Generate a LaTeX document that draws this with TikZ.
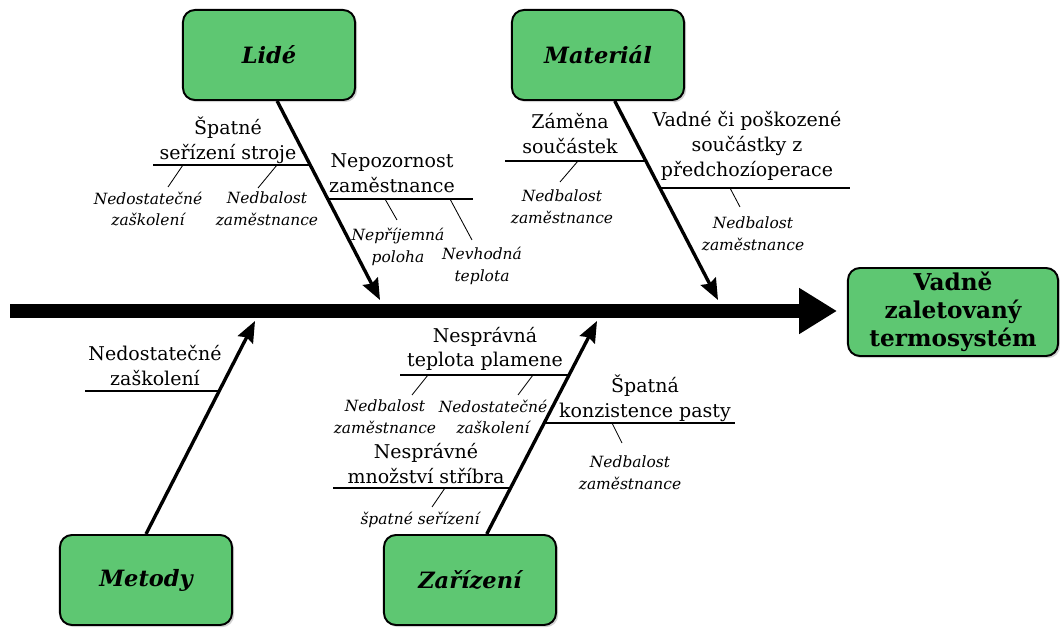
\documentclass[tikz,border=0pt]{standalone}
\usepackage{fontspec}
\setmainfont{DejaVu Serif}
\usetikzlibrary{arrows.meta}
\usetikzlibrary{shadows}
\definecolor{boxgreen}{RGB}{94,199,114}
\tikzset{
	textnode/.style = {
		align=center,
		inner sep=1pt,
		text centered
	},
	node_box/.style = {
		textnode,
		rectangle,
		rounded corners=8.5pt,
		draw=black,
		line width=1.4pt,
		fill=boxgreen,
		minimum width=4.3cm,
		minimum height=2.25cm,
		font=\fontsize{16}{19}\selectfont\bfseries\itshape,
		drop shadow={shadow xshift=1.5pt, shadow yshift=-1.5pt, opacity=0.35}
	},
	node_effect/.style = {
		node_box,
		font=\fontsize{16.5}{20}\selectfont\bfseries,
		minimum width=5.25cm,
		minimum height=2.2cm
	},
	node_cause/.style = {
		textnode,
		yshift=1.5pt,
		font=\fontsize{13.5}{17.7}\selectfont
	},
	node_sub/.style = {
		textnode,
		font=\fontsize{11}{15.6}\selectfont\itshape
	},
	bone/.style = {
		line width=2.4pt,
		-{Stealth[length=15pt, width=12pt, inset=2pt]}
	},
	branch/.style = {
		line width=1.6pt
	},
	twig/.style = {
		line width=0.6pt
	},
}

\begin{document}
\begin{tikzpicture}[x=0.025cm, y=-0.025cm]
\useasboundingbox (0,0) rectangle (1060,628);
% category boxes and effect
\node [node_box] (lide) at (269,55) {Lidé};
\node [node_box] (material) at (598,55) {Materiál};
\node [node_box] (metody) at (146,580) {Metody};
\node [node_box] (zarizeni) at (470,580) {Zařízení};
\node [node_effect] (effect) at (953,312) {Vadně\\zaletovaný\\termosystém};

% spine
\coordinate (spine_start) at (10,311);
\coordinate (spine_end) at (837,311);
\draw [line width=10.5pt, -{Triangle[length=27pt, width=31pt]}] (spine_start) -- (spine_end);

% bones
\coordinate (lide_tip) at (380,300);
\coordinate (material_tip) at (718,300);
\coordinate (metody_tip) at (255,321);
\coordinate (zarizeni_tip) at (597,321);
\draw [bone] (lide.280) -- (lide_tip);
\draw [bone] (material.290) -- (material_tip);
\draw [bone] (metody.north) -- (metody_tip);
\draw [bone] (zarizeni.70) -- (zarizeni_tip);

% Lide
\coordinate (sp_l) at (153,165);
\coordinate (sp_r) at (309,165);
\draw [branch] (sp_l) -- (sp_r);
\node [node_cause] (sp) at (228,142) {Špatné\\seřízení stroje};
\coordinate (sp_a) at (183,165);
\coordinate (sp_a2) at (168,187);
\draw [twig] (sp_a) -- (sp_a2);
\node [node_sub] (sp_sub1) at (148,209) {Nedostatečné\\zaškolení};
\coordinate (sp_b) at (277,165);
\coordinate (sp_b2) at (258,188);
\draw [twig] (sp_b) -- (sp_b2);
\node [node_sub] (sp_sub2) at (267,209) {Nedbalost\\zaměstnance};

\coordinate (np_l) at (326,199);
\coordinate (np_r) at (473,199);
\draw [branch] (np_l) -- (np_r);
\node [node_cause] (np) at (392,175) {Nepozornost\\zaměstnance};
\coordinate (np_a) at (385,199);
\coordinate (np_a2) at (397,220);
\draw [twig] (np_a) -- (np_a2);
\node [node_sub] (np_sub1) at (398,247) {Nepříjemná\\poloha};
\coordinate (np_b) at (450,199);
\coordinate (np_b2) at (472,240);
\draw [twig] (np_b) -- (np_b2);
\node [node_sub] (np_sub2) at (482,266) {Nevhodná\\teplota};

% Material
\coordinate (zm_l) at (505,161);
\coordinate (zm_r) at (645,161);
\draw [branch] (zm_l) -- (zm_r);
\node [node_cause] (zm) at (570,136) {Záměna\\součástek};
\coordinate (zm_a) at (578,161);
\coordinate (zm_a2) at (560,182);
\draw [twig] (zm_a) -- (zm_a2);
\node [node_sub] (zm_sub1) at (562,207) {Nedbalost\\zaměstnance};

\coordinate (vd_l) at (660,188);
\coordinate (vd_r) at (850,188);
\draw [branch] (vd_l) -- (vd_r);
\node [node_cause] (vd) at (747,148) {Vadné či poškozené\\součástky z\\předchozíoperace};
\coordinate (vd_a) at (730,188);
\coordinate (vd_a2) at (740,207);
\draw [twig] (vd_a) -- (vd_a2);
\node [node_sub] (vd_sub1) at (753,234) {Nedbalost\\zaměstnance};

% Metody
\coordinate (ns_l) at (85,391);
\coordinate (ns_r) at (220,391);
\draw [branch] (ns_l) -- (ns_r);
\node [node_cause] (ns) at (155,368) {Nedostatečné\\zaškolení};

% Zarizeni
\coordinate (tp_l) at (400,375);
\coordinate (tp_r) at (569,375);
\draw [branch] (tp_l) -- (tp_r);
\node [node_cause] (tp) at (485,351) {Nesprávná\\teplota plamene};
\coordinate (tp_a) at (428,375);
\coordinate (tp_a2) at (412,395);
\draw [twig] (tp_a) -- (tp_a2);
\node [node_sub] (tp_sub1) at (385,417) {Nedbalost\\zaměstnance};
\coordinate (tp_b) at (533,375);
\coordinate (tp_b2) at (518,395);
\draw [twig] (tp_b) -- (tp_b2);
\node [node_sub] (tp_sub2) at (493,417) {Nedostatečné\\zaškolení};

\coordinate (kp_l) at (543,423);
\coordinate (kp_r) at (735,423);
\draw [branch] (kp_l) -- (kp_r);
\node [node_cause] (kp) at (645,400) {Špatná\\konzistence pasty};
\coordinate (kp_a) at (612,423);
\coordinate (kp_a2) at (622,443);
\draw [twig] (kp_a) -- (kp_a2);
\node [node_sub] (kp_sub1) at (630,473) {Nedbalost\\zaměstnance};

\coordinate (ms_l) at (333,488);
\coordinate (ms_r) at (509,488);
\draw [branch] (ms_l) -- (ms_r);
\node [node_cause] (ms) at (426,466) {Nesprávné\\množství stříbra};
\coordinate (ms_a) at (445,488);
\coordinate (ms_a2) at (432,507);
\draw [twig] (ms_a) -- (ms_a2);
\node [node_sub] (ms_sub1) at (420,520) {špatné seřízení};
\end{tikzpicture}
\end{document}
